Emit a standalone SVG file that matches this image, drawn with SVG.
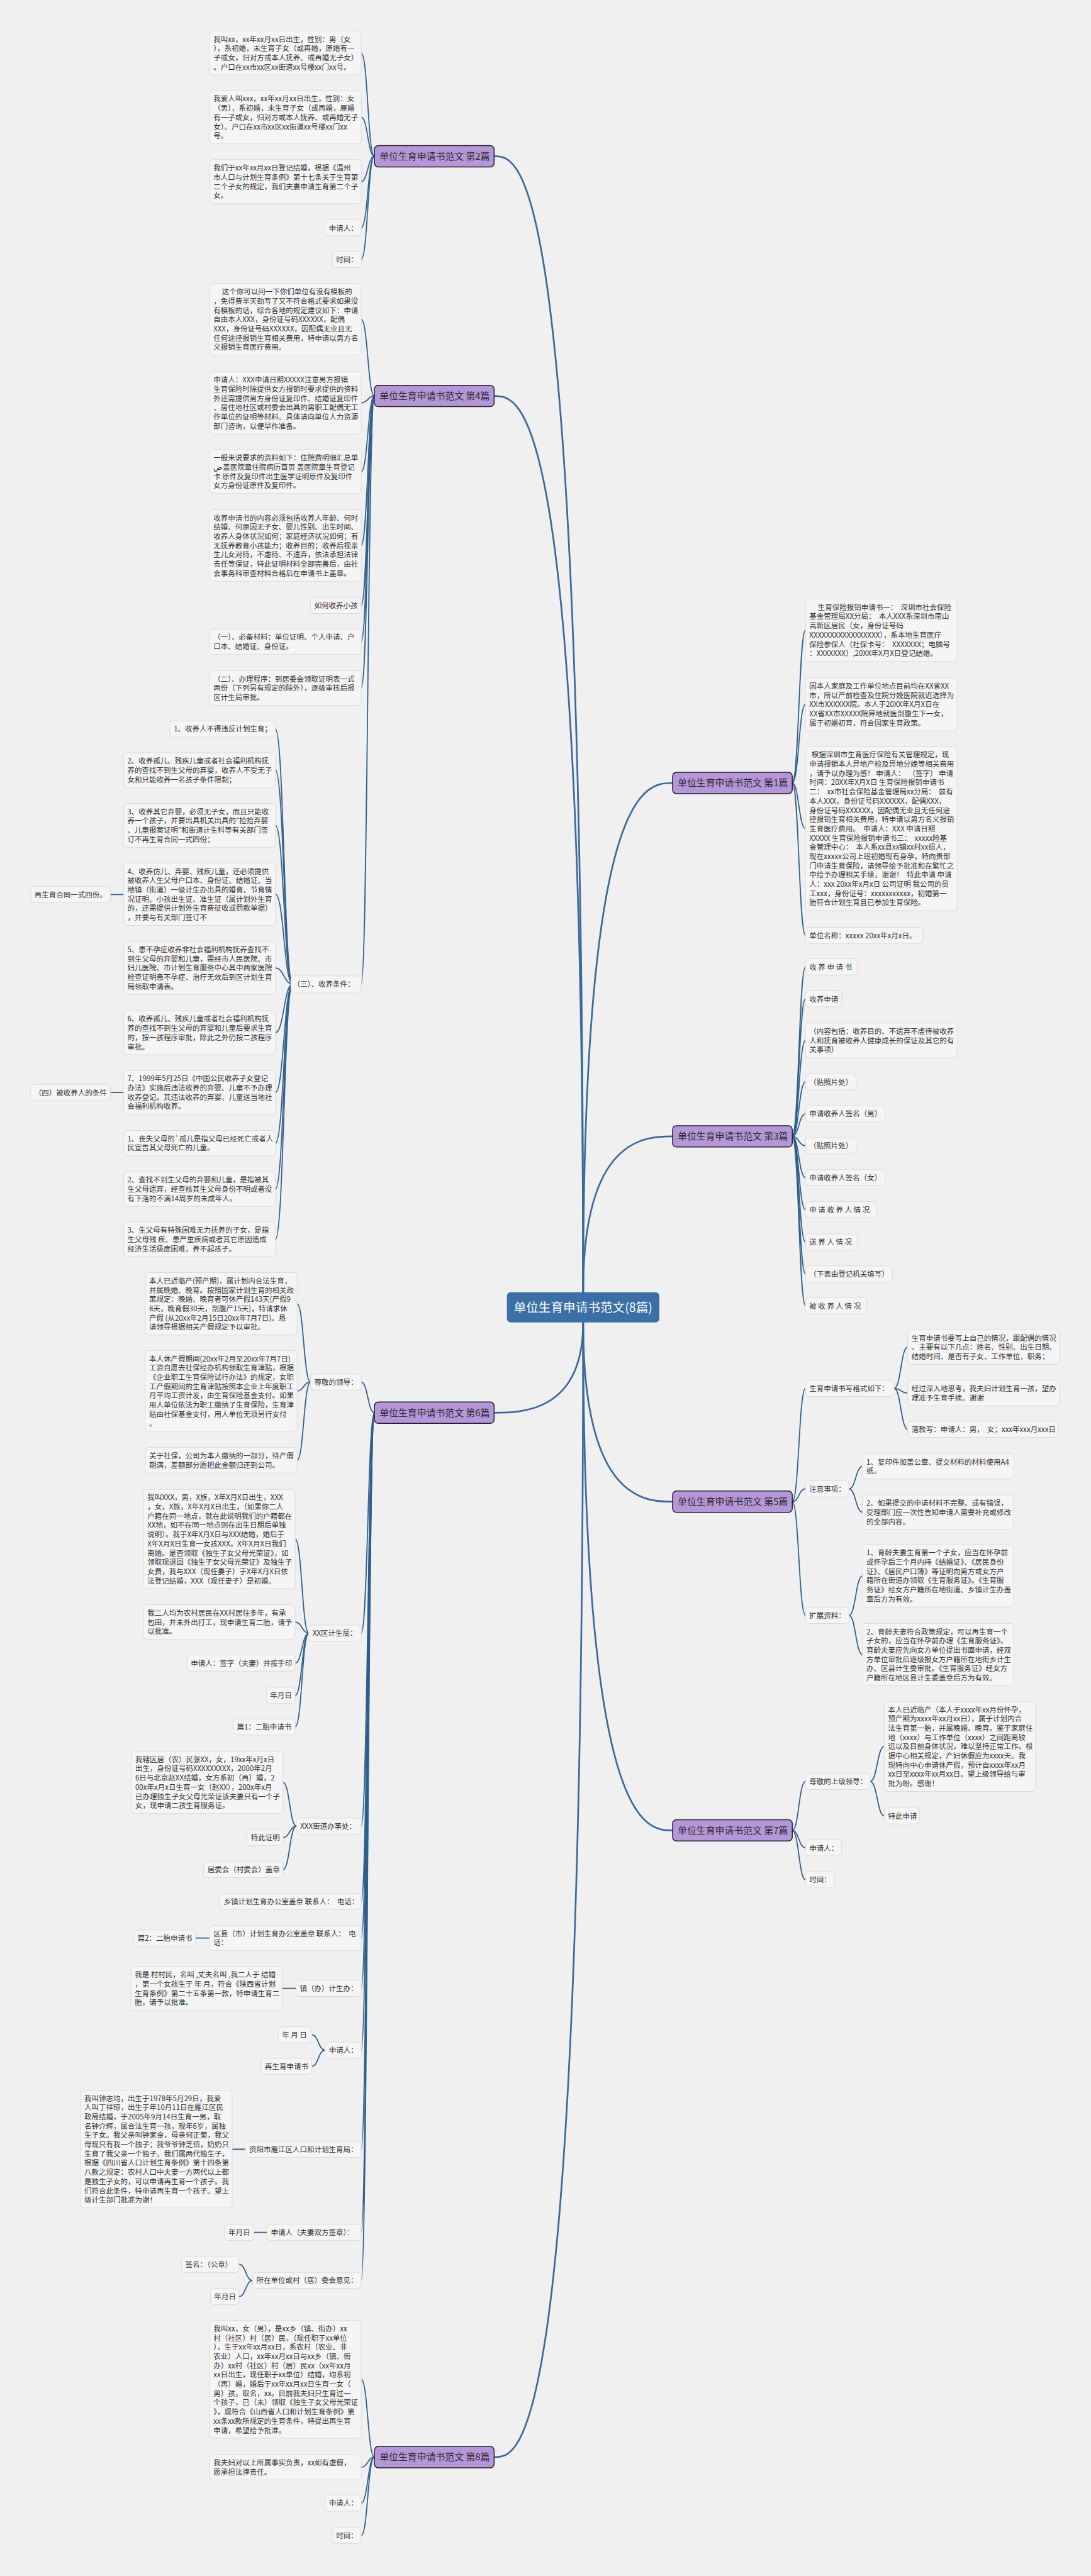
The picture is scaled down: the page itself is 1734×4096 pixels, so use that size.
<svg xmlns="http://www.w3.org/2000/svg" width="1734" height="4096" viewBox="0 0 1734 4096">
<style>
text{font-family:"Noto Sans CJK SC","Noto Sans",sans-serif;white-space:pre}
.lf rect{fill:#f5f5f5;stroke:#dcdcdc;stroke-width:1.5}
.lf text{font-size:17px;fill:#333}
.br rect{fill:#b596d9;stroke:#22202c;stroke-width:2.2}
.br text{font-size:22px;fill:#2a2a2a}
.rt rect{fill:#3b6fa6}
.rt text{font-size:29px;fill:#fff}
.cn path{fill:none;stroke:#2f5f8c;stroke-width:2.6;stroke-linecap:round}
.mn path{fill:none;stroke:#3a6a9b;stroke-width:4;stroke-linecap:round}
</style>
<rect width="1734" height="4096" fill="#f0f0f0"/>
<g transform="scale(0.677)">
<g class="mn" id="main-connectors">
<path d="M1369 3035 C1369 367 1223 367 1160 367"/>
<path d="M1369 3035 C1369 930 1223 930 1160 930"/>
<path d="M1369 3106 C1369 3318 1223 3318 1160 3318"/>
<path d="M1369 3106 C1369 5771 1223 5771 1160 5771"/>
<path d="M1369 3035 C1369 1839 1516 1839 1579 1839"/>
<path d="M1369 3035 C1369 2669 1516 2669 1579 2669"/>
<path d="M1369 3106 C1369 3527 1516 3527 1579 3527"/>
<path d="M1369 3106 C1369 4299 1516 4299 1579 4299"/>
</g>
<g class="cn" id="connectors">
<path d="M879 367 C863.5 367 863.5 124.5 848 124.5"/>
<path d="M879 367 C863.5 367 863.5 275.4 848 275.4"/>
<path d="M879 367 C863.5 367 863.5 426.5 848 426.5"/>
<path d="M879 367 C863.5 367 863.5 535 848 535"/>
<path d="M879 367 C863.5 367 863.5 609 848 609"/>
<path d="M879 930 C863.5 930 863.5 750 848 750"/>
<path d="M879 930 C863.5 930 863.5 946.3 848 946.3"/>
<path d="M879 930 C863.5 930 863.5 1107.6 848 1107.6"/>
<path d="M879 930 C863.5 930 863.5 1281 848 1281"/>
<path d="M879 930 C863.5 930 863.5 1422 848 1422"/>
<path d="M879 930 C863.5 930 863.5 1507 848 1507"/>
<path d="M879 930 C863.5 930 863.5 1615.7 848 1615.7"/>
<path d="M879 930 C863.5 930 863.5 2311 848 2311"/>
<path d="M687 2311 C666.7 2311 666.7 1712 646.5 1712"/>
<path d="M687 2311 C666.7 2311 666.7 1808.7 646.5 1808.7"/>
<path d="M687 2311 C666.7 2311 666.7 1938.6 646.5 1938.6"/>
<path d="M687 2311 C666.7 2311 666.7 2100.3 646.5 2100.3"/>
<path d="M687 2311 C666.7 2311 666.7 2273.4 646.5 2273.4"/>
<path d="M687 2311 C666.7 2311 666.7 2425.6 646.5 2425.6"/>
<path d="M687 2311 C666.7 2311 666.7 2565.6 646.5 2565.6"/>
<path d="M687 2311 C666.7 2311 666.7 2684.9 646.5 2684.9"/>
<path d="M687 2311 C666.7 2311 666.7 2792.7 646.5 2792.7"/>
<path d="M687 2311 C666.7 2311 666.7 2910.7 646.5 2910.7"/>
<path d="M290 2101 L259 2101"/>
<path d="M290 2566 L259 2566"/>
<path d="M879 3318 C863.5 3318 863.5 3246 848 3246"/>
<path d="M879 3318 C863.5 3318 863.5 3836 848 3836"/>
<path d="M879 3318 C863.5 3318 863.5 4289 848 4289"/>
<path d="M879 3318 C863.5 3318 863.5 4466 848 4466"/>
<path d="M879 3318 C863.5 3318 863.5 4552 848 4552"/>
<path d="M879 3318 C863.5 3318 863.5 4670 848 4670"/>
<path d="M879 3318 C863.5 3318 863.5 4815 848 4815"/>
<path d="M879 3318 C863.5 3318 863.5 5048 848 5048"/>
<path d="M879 3318 C863.5 3318 863.5 5243 848 5243"/>
<path d="M879 3318 C863.5 3318 863.5 5356 848 5356"/>
<path d="M729 3246 C713 3246 713 3062.3 697.5 3062.3"/>
<path d="M729 3246 C713 3246 713 3267 697.5 3267"/>
<path d="M729 3246 C713 3246 713 3430 697.5 3430"/>
<path d="M725 3836 C709 3836 709 3614.7 693 3614.7"/>
<path d="M725 3836 C709 3836 709 3809.7 693 3809.7"/>
<path d="M725 3836 C709 3836 709 3906 693 3906"/>
<path d="M725 3836 C709 3836 709 3982 693 3982"/>
<path d="M725 3836 C709 3836 709 4056 693 4056"/>
<path d="M696 4289 C680 4289 680 4186.3 664.4 4186.3"/>
<path d="M696 4289 C680 4289 680 4316 664.4 4316"/>
<path d="M696 4289 C680 4289 680 4391 664.4 4391"/>
<path d="M492 4552 L459 4552"/>
<path d="M695 4670 L663 4670"/>
<path d="M763 4815 C747.5 4815 747.5 4779 732 4779"/>
<path d="M763 4815 C747.5 4815 747.5 4853 732 4853"/>
<path d="M576 5048 L545 5048"/>
<path d="M627 5243 L596 5243"/>
<path d="M593 5356 C577 5356 577 5318 561 5318"/>
<path d="M593 5356 C577 5356 577 5394 561 5394"/>
<path d="M879 5771 C863.5 5771 863.5 5588.4 848 5588.4"/>
<path d="M879 5771 C863.5 5771 863.5 5795 848 5795"/>
<path d="M879 5771 C863.5 5771 863.5 5879 848 5879"/>
<path d="M879 5771 C863.5 5771 863.5 5955 848 5955"/>
<path d="M1860 1839 C1875.5 1839 1875.5 1480.3 1891 1480.3"/>
<path d="M1860 1839 C1875.5 1839 1875.5 1654.4 1891 1654.4"/>
<path d="M1860 1839 C1875.5 1839 1875.5 1946 1891 1946"/>
<path d="M1860 1839 C1875.5 1839 1875.5 2197 1891 2197"/>
<path d="M1860 2669 C1875.5 2669 1875.5 2271 1891 2271"/>
<path d="M1860 2669 C1875.5 2669 1875.5 2346 1891 2346"/>
<path d="M1860 2669 C1875.5 2669 1875.5 2443.7 1891 2443.7"/>
<path d="M1860 2669 C1875.5 2669 1875.5 2541 1891 2541"/>
<path d="M1860 2669 C1875.5 2669 1875.5 2616 1891 2616"/>
<path d="M1860 2669 C1875.5 2669 1875.5 2691 1891 2691"/>
<path d="M1860 2669 C1875.5 2669 1875.5 2766 1891 2766"/>
<path d="M1860 2669 C1875.5 2669 1875.5 2841 1891 2841"/>
<path d="M1860 2669 C1875.5 2669 1875.5 2917 1891 2917"/>
<path d="M1860 2669 C1875.5 2669 1875.5 2992 1891 2992"/>
<path d="M1860 2669 C1875.5 2669 1875.5 3067 1891 3067"/>
<path d="M1860 3527 C1875.5 3527 1875.5 3261 1891 3261"/>
<path d="M1860 3527 C1875.5 3527 1875.5 3497 1891 3497"/>
<path d="M1860 3527 C1875.5 3527 1875.5 3794 1891 3794"/>
<path d="M2099 3261 C2115 3261 2115 3163.7 2131 3163.7"/>
<path d="M2099 3261 C2115 3261 2115 3271.9 2131 3271.9"/>
<path d="M2099 3261 C2115 3261 2115 3357 2131 3357"/>
<path d="M1993 3497 C2009 3497 2009 3443.9 2025 3443.9"/>
<path d="M1993 3497 C2009 3497 2009 3551.7 2025 3551.7"/>
<path d="M1993 3794 C2009 3794 2009 3701.3 2025 3701.3"/>
<path d="M1993 3794 C2009 3794 2009 3886.3 2025 3886.3"/>
<path d="M1860 4299 C1875.5 4299 1875.5 4184 1891 4184"/>
<path d="M1860 4299 C1875.5 4299 1875.5 4340 1891 4340"/>
<path d="M1860 4299 C1875.5 4299 1875.5 4415 1891 4415"/>
<path d="M2043 4184 C2059.5 4184 2059.5 4101.8 2076 4101.8"/>
<path d="M2043 4184 C2059.5 4184 2059.5 4265 2076 4265"/>
</g>

<g class="rt" id="root"><rect x="1190" y="3035" width="358" height="71" rx="9"/><text x="1369" y="3081" text-anchor="middle">单位生育申请书范文(8篇)</text></g>

<g class="br" id="b2"><rect x="879" y="342" width="281" height="50" rx="9"/><text x="891" y="375">单位生育申请书范文 第2篇</text></g>
<g class="br" id="b4"><rect x="879" y="905" width="281" height="50" rx="9"/><text x="891" y="938">单位生育申请书范文 第4篇</text></g>
<g class="br" id="b6"><rect x="879" y="3293" width="281" height="50" rx="9"/><text x="891" y="3326">单位生育申请书范文 第6篇</text></g>
<g class="br" id="b8"><rect x="879" y="5746" width="281" height="50" rx="9"/><text x="891" y="5779">单位生育申请书范文 第8篇</text></g>
<g class="br" id="b1"><rect x="1579" y="1814" width="281" height="50" rx="9"/><text x="1591" y="1847">单位生育申请书范文 第1篇</text></g>
<g class="br" id="b3"><rect x="1579" y="2644" width="281" height="50" rx="9"/><text x="1591" y="2677">单位生育申请书范文 第3篇</text></g>
<g class="br" id="b5"><rect x="1579" y="3502" width="281" height="50" rx="9"/><text x="1591" y="3535">单位生育申请书范文 第5篇</text></g>
<g class="br" id="b7"><rect x="1579" y="4274" width="281" height="50" rx="9"/><text x="1591" y="4307">单位生育申请书范文 第7篇</text></g>

<g class="lf" id="a1"><rect x="492" y="73" width="356" height="103.1" rx="8"/><text><tspan x="501" y="98.5">我叫xx，xx年xx月xx日出生，性别：男（女</tspan><tspan x="501" y="120.2">），系初婚，未生育子女（或再婚，原婚有一</tspan><tspan x="501" y="141.9">子或女，归对方或本人抚养、或再婚无子女）</tspan><tspan x="501" y="163.6">。户口在xx市xx区xx街道xx号楼xx门xx号。</tspan></text></g>
<g class="lf" id="a2"><rect x="492" y="213" width="356" height="124.8" rx="8"/><text><tspan x="501" y="238.5">我爱人叫xxx，xx年xx月xx日出生，性别：女</tspan><tspan x="501" y="260.2">（男），系初婚，未生育子女（或再婚，原婚</tspan><tspan x="501" y="281.9">有一子或女，归对方或本人抚养、或再婚无子</tspan><tspan x="501" y="303.6">女）。户口在xx市xx区xx街道xx号楼xx门xx</tspan><tspan x="501" y="325.3">号。</tspan></text></g>
<g class="lf" id="a3"><rect x="492" y="375" width="356" height="103.1" rx="8"/><text><tspan x="501" y="400.5">我们于xx年xx月xx日登记结婚，根据《温州</tspan><tspan x="501" y="422.2">市人口与计划生育条例》第十七条关于生育第</tspan><tspan x="501" y="443.9">二个子女的规定，我们夫妻申请生育第二个子</tspan><tspan x="501" y="465.6">女。</tspan></text></g>
<g class="lf" id="a4"><rect x="763" y="516" width="85" height="38" rx="8"/><text x="772" y="541.5">申请人：</text></g>
<g class="lf" id="a5"><rect x="780" y="590" width="68" height="38" rx="8"/><text x="789" y="615.5">时间：</text></g>

<g class="lf" id="bb1"><rect x="492" y="666" width="356" height="168.2" rx="8"/><text><tspan x="521" y="691.5">这个你可以问一下你们单位有没有模板的</tspan><tspan x="501" y="713.2">，免得费半天劲写了又不符合格式要求如果没</tspan><tspan x="501" y="734.9">有模板的话，综合各地的规定建议如下：申请</tspan><tspan x="501" y="756.6">自由本人XXX，身份证号码XXXXXX，配偶</tspan><tspan x="501" y="778.3">XXX，身份证号码XXXXXX，因配偶无业且无</tspan><tspan x="501" y="800">任何途径报销生育相关费用，特申请以男方名</tspan><tspan x="501" y="821.7">义报销生育医疗费用。</tspan></text></g>
<g class="lf" id="bb2"><rect x="492" y="873" width="356" height="146.5" rx="8"/><text><tspan x="501" y="898.5">申请人：XXX申请日期XXXXX注意男方报销</tspan><tspan x="501" y="920.2">生育保险时除提供女方报销时要求提供的资料</tspan><tspan x="501" y="941.9">外还需提供男方身份证复印件、结婚证复印件</tspan><tspan x="501" y="963.6">、居住地社区或村委会出具的男职工配偶无工</tspan><tspan x="501" y="985.3">作单位的证明等材料。具体请向单位人力资源</tspan><tspan x="501" y="1007">部门咨询，以便早作准备。</tspan></text></g>
<g class="lf" id="bb3"><rect x="492" y="1056" width="356" height="103.1" rx="8"/><text><tspan x="501" y="1081.5">一般来说要求的资料如下：住院费明细汇总单</tspan><tspan x="501" y="1103.2">ض盖医院章住院病历首页 盖医院章生育登记</tspan><tspan x="501" y="1124.9">卡 原件及复印件出生医学证明原件及复印件</tspan><tspan x="501" y="1146.6">女方身份证原件及复印件。</tspan></text></g>
<g class="lf" id="bb4"><rect x="492" y="1197" width="356" height="168.2" rx="8"/><text><tspan x="501" y="1222.5">收养申请书的内容必须包括收养人年龄、何时</tspan><tspan x="501" y="1244.2">结婚、何原因无子女、婴儿性别、出生时间、</tspan><tspan x="501" y="1265.9">收养人身体状况如何；家庭经济状况如何；有</tspan><tspan x="501" y="1287.6">无抚养教育小孩能力；收养目的；收养后视亲</tspan><tspan x="501" y="1309.3">生儿女对待，不虐待、不遗弃，依法承担法律</tspan><tspan x="501" y="1331">责任等保证，特此证明材料全部完善后，由社</tspan><tspan x="501" y="1352.7">会事务科审查材料合格后在申请书上盖章。</tspan></text></g>
<g class="lf" id="bb5"><rect x="729" y="1403" width="119" height="38" rx="8"/><text x="738" y="1428.5">如何收养小孩</text></g>
<g class="lf" id="bb6"><rect x="492" y="1477" width="356" height="59.7" rx="8"/><text><tspan x="501" y="1502.5">（一）、必备材料：单位证明、个人申请、户</tspan><tspan x="501" y="1524.2">口本、结婚证、身份证。</tspan></text></g>
<g class="lf" id="bb7"><rect x="492" y="1575" width="356" height="81.4" rx="8"/><text><tspan x="501" y="1600.5">（二）、办理程序：到居委会领取证明表一式</tspan><tspan x="501" y="1622.2">两份（下列另有规定的除外），逐级审核后报</tspan><tspan x="501" y="1643.9">区计生局审批。</tspan></text></g>
<g class="lf" id="bb8"><rect x="683" y="2292" width="165" height="38" rx="8"/><text x="688" y="2317.5">（三）、收养条件：</text></g>

<g class="lf" id="c1"><rect x="399" y="1693" width="247.5" height="38" rx="8"/><text x="408" y="1718.5">1、收养人不得违反计划生育；</text></g>
<g class="lf" id="c2"><rect x="290" y="1768" width="356.5" height="81.4" rx="8"/><text><tspan x="299" y="1793.5">2、收养孤儿、残疾儿童或者社会福利机构抚</tspan><tspan x="299" y="1815.2">养的查找不到生父母的弃婴，收养人不受无子</tspan><tspan x="299" y="1836.9">女和只能收养一名孩子条件限制；</tspan></text></g>
<g class="lf" id="c3"><rect x="290" y="1887" width="356.5" height="103.1" rx="8"/><text><tspan x="299" y="1912.5">3、收养其它弃婴，必须无子女，而且只能收</tspan><tspan x="299" y="1934.2">养一个孩子，并要出具机关出具的"捡拾弃婴</tspan><tspan x="299" y="1955.9">、儿童报案证明"和街道计生科等有关部门签</tspan><tspan x="299" y="1977.6">订不再生育合同一式四份；</tspan></text></g>
<g class="lf" id="c4"><rect x="290" y="2027" width="356.5" height="146.5" rx="8"/><text><tspan x="299" y="2052.5">4、收养仿儿、弃婴、残疾儿童，还必须提供</tspan><tspan x="299" y="2074.2">被收养人生父母户口本、身份证、结婚证、当</tspan><tspan x="299" y="2095.9">地镇（街道）一级计生办出具的婚育、节育情</tspan><tspan x="299" y="2117.6">况证明、小孩出生证、准生证（属计划外生育</tspan><tspan x="299" y="2139.3">的，还需提供计划外生育费征收或罚款单据）</tspan><tspan x="299" y="2161">，并要与有关部门签订不</tspan></text></g>
<g class="lf" id="c4c"><rect x="72" y="2082" width="187" height="38" rx="8"/><text x="81" y="2107.5">再生育合同一式四份。</text></g>
<g class="lf" id="c5"><rect x="290" y="2211" width="356.5" height="124.8" rx="8"/><text><tspan x="299" y="2236.5">5、患不孕症收养非社会福利机构抚养查找不</tspan><tspan x="299" y="2258.2">到生父母的弃婴和儿童，需经市人民医院、市</tspan><tspan x="299" y="2279.9">妇儿医院、市计划生育服务中心其中两家医院</tspan><tspan x="299" y="2301.6">检查证明患不孕症、治疗无效后到区计划生育</tspan><tspan x="299" y="2323.3">局领取申请表。</tspan></text></g>
<g class="lf" id="c6"><rect x="290" y="2374" width="356.5" height="103.1" rx="8"/><text><tspan x="299" y="2399.5">6、收养孤儿、残疾儿童或者社会福利机构抚</tspan><tspan x="299" y="2421.2">养的查找不到生父母的弃婴和儿童后要求生育</tspan><tspan x="299" y="2442.9">的，按一孩程序审批，除此之外仍按二孩程序</tspan><tspan x="299" y="2464.6">审批。</tspan></text></g>
<g class="lf" id="c7"><rect x="290" y="2514" width="356.5" height="103.1" rx="8"/><text><tspan x="299" y="2539.5">7、1999年5月25日《中国公民收养子女登记</tspan><tspan x="299" y="2561.2">办法》实施后违法收养的弃婴、儿童不予办理</tspan><tspan x="299" y="2582.9">收养登记。其违法收养的弃婴、儿童送当地社</tspan><tspan x="299" y="2604.6">会福利机构收养。</tspan></text></g>
<g class="lf" id="c7c"><rect x="72" y="2547" width="187" height="38" rx="8"/><text x="81" y="2572.5">（四）被收养人的条件</text></g>
<g class="lf" id="c8"><rect x="290" y="2655" width="356.5" height="59.7" rx="8"/><text><tspan x="299" y="2680.5">1、丧失父母的`孤儿是指父母已经死亡或者人</tspan><tspan x="299" y="2702.2">民宣告其父母死亡的儿童。</tspan></text></g>
<g class="lf" id="c9"><rect x="290" y="2752" width="356.5" height="81.4" rx="8"/><text><tspan x="299" y="2777.5">2、查找不到生父母的弃婴和儿童，是指被其</tspan><tspan x="299" y="2799.2">生父母遗弃，经查核其生父母身份不明或者没</tspan><tspan x="299" y="2820.9">有下落的不满14周岁的未成年人。</tspan></text></g>
<g class="lf" id="c10"><rect x="290" y="2870" width="356.5" height="81.4" rx="8"/><text><tspan x="299" y="2895.5">3、生父母有特殊困难无力抚养的子女，是指</tspan><tspan x="299" y="2917.2">生父母残 疾、患严重疾病或者其它原因造成</tspan><tspan x="299" y="2938.9">经济生活极度困难，养不起孩子。</tspan></text></g>

<g class="lf" id="d1"><rect x="729" y="3227" width="119" height="38" rx="8"/><text x="738" y="3252.5">尊敬的领导：</text></g>
<g class="lf" id="d1a"><rect x="341" y="2989" width="356.5" height="146.5" rx="8"/><text><tspan x="350" y="3014.5">本人已近临产(预产期)，属计划内合法生育，</tspan><tspan x="350" y="3036.2">并属晚婚、晚育。按照国家计划生育的相关政</tspan><tspan x="350" y="3057.9">策规定：晚婚、晚育者可休产假143天(产假9</tspan><tspan x="350" y="3079.6">8天，晚育假30天，剖腹产15天)，特请求休</tspan><tspan x="350" y="3101.3">产假 (从20xx年2月15日20xx年7月7日)。恳</tspan><tspan x="350" y="3123">请领导根据相关产假规定予以审批。</tspan></text></g>
<g class="lf" id="d1b"><rect x="341" y="3172" width="356.5" height="189.9" rx="8"/><text><tspan x="350" y="3197.5">本人休产假期间(20xx年2月至20xx年7月7日)</tspan><tspan x="350" y="3219.2">工资自愿去社保经办机构领取生育津贴，根据</tspan><tspan x="350" y="3240.9">《企业职工生育保险试行办法》的规定，女职</tspan><tspan x="350" y="3262.6">工产假期间的生育津贴按照本企业上年度职工</tspan><tspan x="350" y="3284.3">月平均工资计发，由生育保险基金支付。如果</tspan><tspan x="350" y="3306">用人单位依法为职工缴纳了生育保险，生育津</tspan><tspan x="350" y="3327.7">贴由社保基金支付，用人单位无须另行支付</tspan><tspan x="350" y="3349.4">。</tspan></text></g>
<g class="lf" id="d1c"><rect x="341" y="3400" width="356.5" height="59.7" rx="8"/><text><tspan x="350" y="3425.5">关于社保，公司为本人缴纳的一部分，待产假</tspan><tspan x="350" y="3447.2">期满，差额部分愿把此金额归还到公司。</tspan></text></g>

<g class="lf" id="d2"><rect x="725" y="3817" width="123" height="38" rx="8"/><text x="734" y="3842.5">XX区计生局：</text></g>
<g class="lf" id="d2a"><rect x="337" y="3498" width="356" height="233.3" rx="8"/><text><tspan x="346" y="3523.5">我叫XXX，男，X族，X年X月X日出生，XXX</tspan><tspan x="346" y="3545.2">，女，X族，X年X月X日出生，（如果你二人</tspan><tspan x="346" y="3566.9">户籍在同一地点，就在此说明我们的户籍都在</tspan><tspan x="346" y="3588.6">XX地，如不在同一地点则在出生日期后单独</tspan><tspan x="346" y="3610.3">说明）。我于X年X月X日与XXX结婚，婚后于</tspan><tspan x="346" y="3632">X年X月X日生育一女孩XXX，X年X月X日我们</tspan><tspan x="346" y="3653.7">离婚。是否领取《独生子女父母光荣证》，如</tspan><tspan x="346" y="3675.4">领取现退回《独生子女父母光荣证》及独生子</tspan><tspan x="346" y="3697.1">女费，我与XXX（现任妻子）于X年X月X日依</tspan><tspan x="346" y="3718.8">法登记结婚，XXX（现任妻子）是初婚。</tspan></text></g>
<g class="lf" id="d2b"><rect x="337" y="3769" width="356" height="81.4" rx="8"/><text><tspan x="346" y="3794.5">我二人均为农村居民在XX村居住多年，有承</tspan><tspan x="346" y="3816.2">包田，并未外出打工，现申请生育二胎，请予</tspan><tspan x="346" y="3837.9">以批准。</tspan></text></g>
<g class="lf" id="d2c"><rect x="439" y="3887" width="254" height="38" rx="8"/><text x="448" y="3912.5">申请人：签字（夫妻）并按手印</text></g>
<g class="lf" id="d2d"><rect x="625" y="3963" width="68" height="38" rx="8"/><text x="634" y="3988.5">年月日</text></g>
<g class="lf" id="d2e"><rect x="547" y="4037" width="146" height="38" rx="8"/><text x="556" y="4062.5">篇1：二胎申请书</text></g>

<g class="lf" id="d3"><rect x="696" y="4270" width="152" height="38" rx="8"/><text x="705" y="4295.5">XXX街道办事处：</text></g>
<g class="lf" id="d3a"><rect x="308.5" y="4113" width="356" height="146.5" rx="8"/><text><tspan x="317.5" y="4138.5">我辖区居（农）民张XX，女，19xx年x月x日</tspan><tspan x="317.5" y="4160.2">出生，身份证号码XXXXXXXXX，2000年2月</tspan><tspan x="317.5" y="4181.9">6日与北京赵XX结婚，女方系初（再）婚，2</tspan><tspan x="317.5" y="4203.6">00x年x月x日生育一女（赵XX），200x年x月</tspan><tspan x="317.5" y="4225.3">已办理独生子女父母光荣证该夫妻只有一个子</tspan><tspan x="317.5" y="4247">女，现申请二孩生育服务证。</tspan></text></g>
<g class="lf" id="d3b"><rect x="580" y="4297" width="84.4" height="38" rx="8"/><text x="589" y="4322.5">特此证明</text></g>
<g class="lf" id="d3c"><rect x="478" y="4372" width="186.4" height="38" rx="8"/><text x="487" y="4397.5">居委会（村委会）盖章</text></g>
<g class="lf" id="d4"><rect x="516" y="4447" width="332" height="38" rx="8"/><text x="525" y="4472.5">乡镇计划生育办公室盖章 联系人：  电话：</text></g>
<g class="lf" id="d5"><rect x="492" y="4522" width="356" height="59.7" rx="8"/><text><tspan x="501" y="4547.5">区县（市）计划生育办公室盖章 联系人：  电</tspan><tspan x="501" y="4569.2">话：</tspan></text></g>
<g class="lf" id="d5c"><rect x="314" y="4533" width="145" height="38" rx="8"/><text x="323" y="4558.5">篇2：二胎申请书</text></g>
<g class="lf" id="d6"><rect x="695" y="4651" width="153" height="38" rx="8"/><text x="704" y="4676.5">镇（办）计生办：</text></g>
<g class="lf" id="d6c"><rect x="307.5" y="4619" width="355.5" height="103.1" rx="8"/><text><tspan x="316.5" y="4644.5">我是 村村民，名叫 ,丈夫名叫 ,我二人于 结婚</tspan><tspan x="316.5" y="4666.2">，第一个女孩生于 年 月，符合《陕西省计划</tspan><tspan x="316.5" y="4687.9">生育条例》第二十五条第一款，特申请生育二</tspan><tspan x="316.5" y="4709.6">胎，请予以批准。</tspan></text></g>
<g class="lf" id="d7"><rect x="763" y="4796" width="85" height="38" rx="8"/><text x="772" y="4821.5">申请人：</text></g>
<g class="lf" id="d7a"><rect x="653" y="4760" width="79" height="38" rx="8"/><text x="662" y="4785.5">年 月 日</text></g>
<g class="lf" id="d7b"><rect x="613" y="4834" width="119" height="38" rx="8"/><text x="622" y="4859.5">再生育申请书</text></g>
<g class="lf" id="d8"><rect x="576" y="5029" width="272" height="38" rx="8"/><text x="585" y="5054.5">资阳市雁江区人口和计划生育局：</text></g>
<g class="lf" id="d8c"><rect x="189" y="4909" width="356" height="276.7" rx="8"/><text><tspan x="198" y="4934.5">我叫钟志均，出生于1978年5月29日，我爱</tspan><tspan x="198" y="4956.2">人叫丁祥琼，出生于年10月11日在雁江区民</tspan><tspan x="198" y="4977.9">政局结婚，于2005年9月14日生育一男，取</tspan><tspan x="198" y="4999.6">名钟介辉，属合法生育一孩，现年6岁，属独</tspan><tspan x="198" y="5021.3">生子女。我父亲叫钟家金，母亲何正菊，我父</tspan><tspan x="198" y="5043">母现只有我一个独子；我爷爷钟芝佰，奶奶只</tspan><tspan x="198" y="5064.7">生育了我父亲一个独子。我们属两代独生子，</tspan><tspan x="198" y="5086.4">根据《四川省人口计划生育条例》第十四条第</tspan><tspan x="198" y="5108.1">八款之规定：农村人口中夫妻一方两代以上都</tspan><tspan x="198" y="5129.8">是独生子女的，可以申请再生育一个孩子。我</tspan><tspan x="198" y="5151.5">们符合此条件，特申请再生育一个孩子。望上</tspan><tspan x="198" y="5173.2">级计生部门批准为谢！</tspan></text></g>
<g class="lf" id="d9"><rect x="627" y="5224" width="221" height="38" rx="8"/><text x="636" y="5249.5">申请人（夫妻双方签章）：</text></g>
<g class="lf" id="d9c"><rect x="527.5" y="5224" width="68.5" height="38" rx="8"/><text x="536.5" y="5249.5">年月日</text></g>
<g class="lf" id="d10"><rect x="593" y="5337" width="255" height="38" rx="8"/><text x="602" y="5362.5">所在单位或村（居）委会意见：</text></g>
<g class="lf" id="d10a"><rect x="426" y="5299" width="135" height="38" rx="8"/><text x="435" y="5324.5">签名：（公章）</text></g>
<g class="lf" id="d10b"><rect x="494" y="5375" width="67" height="38" rx="8"/><text x="503" y="5400.5">年月日</text></g>

<g class="lf" id="e1"><rect x="492" y="5450" width="356" height="276.7" rx="8"/><text><tspan x="501" y="5475.5">我叫xx，女（男），是xx乡（镇、街办）xx</tspan><tspan x="501" y="5497.2">村（社区）村（居）民，（现任职于xx单位</tspan><tspan x="501" y="5518.9">），生于xx年xx月xx日，系农村（农业、非</tspan><tspan x="501" y="5540.6">农业）人口，xx年xx月xx日与xx乡（镇、街</tspan><tspan x="501" y="5562.3">办）xx村（社区）村（居）民xx（xx年xx月</tspan><tspan x="501" y="5584">xx日出生，现任职于xx单位）结婚，均系初</tspan><tspan x="501" y="5605.7">（再）婚，婚后于xx年xx月xx日生育一女（</tspan><tspan x="501" y="5627.4">男）孩，取名，xx。目前我夫妇只生育过一</tspan><tspan x="501" y="5649.1">个孩子，已（未）领取《独生子女父母光荣证</tspan><tspan x="501" y="5670.8">》，现符合《山西省人口和计划生育条例》第</tspan><tspan x="501" y="5692.5">xx条xx款所规定的生育条件，特提出再生育</tspan><tspan x="501" y="5714.2">申请，希望给予批准。</tspan></text></g>
<g class="lf" id="e2"><rect x="492" y="5765" width="356" height="59.7" rx="8"/><text><tspan x="501" y="5790.5">我夫妇对以上所属事实负责，xx如有虚假，</tspan><tspan x="501" y="5812.2">愿承担法律责任。</tspan></text></g>
<g class="lf" id="e3"><rect x="763" y="5860" width="85" height="38" rx="8"/><text x="772" y="5885.5">申请人：</text></g>
<g class="lf" id="e4"><rect x="780" y="5936" width="68" height="38" rx="8"/><text x="789" y="5961.5">时间：</text></g>

<g class="lf" id="f1"><rect x="1891" y="1407" width="356" height="146.5" rx="8"/><text><tspan x="1920" y="1432.5">生育保险报销申请书一：  深圳市社会保险</tspan><tspan x="1900" y="1454.2">基金管理局XX分局：  本人XXX系深圳市南山</tspan><tspan x="1900" y="1475.9">高新区居民（女，身份证号码</tspan><tspan x="1900" y="1497.6">XXXXXXXXXXXXXXXXX），系本地生育医疗</tspan><tspan x="1900" y="1519.3">保险参保人（社保卡号：  XXXXXXX；电脑号</tspan><tspan x="1900" y="1541">：XXXXXXX）,20XX年X月X日登记结婚。</tspan></text></g>
<g class="lf" id="f2"><rect x="1891" y="1592" width="356" height="124.8" rx="8"/><text><tspan x="1900" y="1617.5">因本人家庭及工作单位地点目前均在XX省XX</tspan><tspan x="1900" y="1639.2">市，所以产前检查及住院分娩医院就近选择为</tspan><tspan x="1900" y="1660.9">XX市XXXXXX院。本人于20XX年X月X日在</tspan><tspan x="1900" y="1682.6">XX省XX市XXXXX院异地就医剖腹生下一女，</tspan><tspan x="1900" y="1704.3">属于初婚初育，符合国家生育政策。</tspan></text></g>
<g class="lf" id="f3"><rect x="1891" y="1753.5" width="356" height="385.2" rx="8"/><text><tspan x="1905" y="1779">根据深圳市生育医疗保险有关管理规定，现</tspan><tspan x="1900" y="1800.7">申请报销本人异地产检及异地分娩等相关费用</tspan><tspan x="1900" y="1822.4">，请予以办理为感！ 申请人：  （签字） 申请</tspan><tspan x="1900" y="1844.1">时间：20XX年X月X日 生育保险报销申请书</tspan><tspan x="1900" y="1865.8">二：  xx市社会保险基金管理局xx分局：  兹有</tspan><tspan x="1900" y="1887.5">本人XXX，身份证号码XXXXXX，配偶XXX，</tspan><tspan x="1900" y="1909.2">身份证号码XXXXXX，因配偶无业且无任何途</tspan><tspan x="1900" y="1930.9">径报销生育相关费用，特申请以男方名义报销</tspan><tspan x="1900" y="1952.6">生育医疗费用。  申请人：XXX 申请日期</tspan><tspan x="1900" y="1974.3">XXXXX 生育保险报销申请书三：  xxxxx险基</tspan><tspan x="1900" y="1996">金管理中心：  本人系xx县xx镇xx村xx组人，</tspan><tspan x="1900" y="2017.7">现在xxxxx公司上班初婚现有身孕，特向贵部</tspan><tspan x="1900" y="2039.4">门申请生育保险，请领导给予批准和在繁忙之</tspan><tspan x="1900" y="2061.1">中给予办理相关手续，谢谢！  特此申请 申请</tspan><tspan x="1900" y="2082.8">人：xxx 20xx年x月x日 公司证明 我公司的员</tspan><tspan x="1900" y="2104.5">工xxx，身份证号：xxxxxxxxxxx，初婚第一</tspan><tspan x="1900" y="2126.2">胎符合计划生育且已参加生育保险。</tspan></text></g>
<g class="lf" id="f4"><rect x="1891" y="2178" width="276" height="38" rx="8"/><text x="1900" y="2203.5">单位名称：xxxxx 20xx年x月x日。</text></g>

<g class="lf" id="g1"><rect x="1891" y="2252" width="121.5" height="38" rx="8"/><text x="1900" y="2277.5">收 养 申 请 书</text></g>
<g class="lf" id="g2"><rect x="1891" y="2327" width="85" height="38" rx="8"/><text x="1900" y="2352.5">收养申请</text></g>
<g class="lf" id="g3"><rect x="1891" y="2403" width="356" height="81.4" rx="8"/><text><tspan x="1900" y="2428.5">（内容包括：收养目的、不遗弃不虐待被收养</tspan><tspan x="1900" y="2450.2">人和抚育被收养人健康成长的保证及其它的有</tspan><tspan x="1900" y="2471.9">关事项）</tspan></text></g>
<g class="lf" id="g4"><rect x="1891" y="2522" width="119" height="38" rx="8"/><text x="1900" y="2547.5">（贴照片处）</text></g>
<g class="lf" id="g5"><rect x="1891" y="2597" width="186.5" height="38" rx="8"/><text x="1900" y="2622.5">申请收养人签名（男）</text></g>
<g class="lf" id="g6"><rect x="1891" y="2672" width="119" height="38" rx="8"/><text x="1900" y="2697.5">（贴照片处）</text></g>
<g class="lf" id="g7"><rect x="1891" y="2747" width="186.5" height="38" rx="8"/><text x="1900" y="2772.5">申请收养人签名（女）</text></g>
<g class="lf" id="g8"><rect x="1891" y="2822" width="166" height="38" rx="8"/><text x="1900" y="2847.5">申 请 收 养 人 情 况</text></g>
<g class="lf" id="g9"><rect x="1891" y="2898" width="121.5" height="38" rx="8"/><text x="1900" y="2923.5">送 养 人 情 况</text></g>
<g class="lf" id="g10"><rect x="1891" y="2973" width="204" height="38" rx="8"/><text x="1900" y="2998.5">（下表由登记机关填写）</text></g>
<g class="lf" id="g11"><rect x="1891" y="3048" width="144" height="38" rx="8"/><text x="1900" y="3073.5">被 收 养 人 情 况</text></g>

<g class="lf" id="h1"><rect x="1891" y="3242" width="208" height="38" rx="8"/><text x="1900" y="3267.5">生育申请书写格式如下：</text></g>
<g class="lf" id="h1a"><rect x="2131" y="3123" width="356" height="81.4" rx="8"/><text><tspan x="2140" y="3148.5">生育申请书要写上自己的情况，跟配偶的情况</tspan><tspan x="2140" y="3170.2">。主要有以下几点：姓名、性别、出生日期、</tspan><tspan x="2140" y="3191.9">结婚时间、是否有子女、工作单位、职务；</tspan></text></g>
<g class="lf" id="h1b"><rect x="2131" y="3242" width="356" height="59.7" rx="8"/><text><tspan x="2140" y="3267.5">经过深入地思考，我夫妇计划生育一孩，望办</tspan><tspan x="2140" y="3289.2">理准予生育手续。谢谢</tspan></text></g>
<g class="lf" id="h1c"><rect x="2131" y="3338" width="354" height="38" rx="8"/><text x="2140" y="3363.5">落款写：申请人：男，  女；xxx年xxx月xxx日</text></g>
<g class="lf" id="h2"><rect x="1891" y="3478" width="102" height="38" rx="8"/><text x="1900" y="3503.5">注意事项：</text></g>
<g class="lf" id="h2a"><rect x="2025" y="3414" width="355" height="59.7" rx="8"/><text><tspan x="2034" y="3439.5">1、复印件加盖公章、提交材料的材料使用A4</tspan><tspan x="2034" y="3461.2">纸。</tspan></text></g>
<g class="lf" id="h2b"><rect x="2025" y="3511" width="355" height="81.4" rx="8"/><text><tspan x="2034" y="3536.5">2、如果提交的申请材料不完整、或有错误，</tspan><tspan x="2034" y="3558.2">受理部门应一次性告知申请人需要补充或修改</tspan><tspan x="2034" y="3579.9">的全部内容。</tspan></text></g>
<g class="lf" id="h3"><rect x="1891" y="3775" width="102" height="38" rx="8"/><text x="1900" y="3800.5">扩展资料：</text></g>
<g class="lf" id="h3a"><rect x="2025" y="3628" width="355" height="146.5" rx="8"/><text><tspan x="2034" y="3653.5">1、育龄夫妻生育第一个子女，应当在怀孕前</tspan><tspan x="2034" y="3675.2">或怀孕后三个月内持《结婚证》、《居民身份</tspan><tspan x="2034" y="3696.9">证》、《居民户口簿》等证明向男方或女方户</tspan><tspan x="2034" y="3718.6">籍所在街道办领取《生育服务证》。《生育服</tspan><tspan x="2034" y="3740.3">务证》经女方户籍所在地街道、乡镇计生办盖</tspan><tspan x="2034" y="3762">章后方为有效。</tspan></text></g>
<g class="lf" id="h3b"><rect x="2025" y="3813" width="355" height="146.5" rx="8"/><text><tspan x="2034" y="3838.5">2、育龄夫妻符合政策规定，可以再生育一个</tspan><tspan x="2034" y="3860.2">子女的，应当在怀孕前办理《生育服务证》。</tspan><tspan x="2034" y="3881.9">育龄夫妻应先向女方单位提出书面申请，经双</tspan><tspan x="2034" y="3903.6">方单位审批后逐级报女方户籍所在地街乡计生</tspan><tspan x="2034" y="3925.3">办、区县计生委审批。《生育服务证》经女方</tspan><tspan x="2034" y="3947">户籍所在地区县计生委盖章后方为有效。</tspan></text></g>

<g class="lf" id="i1"><rect x="1891" y="4165" width="152" height="38" rx="8"/><text x="1900" y="4190.5">尊敬的上级领导：</text></g>
<g class="lf" id="i1a"><rect x="2076" y="3996" width="355" height="211.6" rx="8"/><text><tspan x="2085" y="4021.5">本人已近临产（本人于xxxx年xx月份怀孕，</tspan><tspan x="2085" y="4043.2">预产期为xxxx年xx月xx日），属于计划内合</tspan><tspan x="2085" y="4064.9">法生育第一胎，并属晚婚、晚育。鉴于家庭住</tspan><tspan x="2085" y="4086.6">地（xxxx）与工作单位（xxxx）之间距离较</tspan><tspan x="2085" y="4108.3">远以及目前身体状况，难以坚持正常工作。根</tspan><tspan x="2085" y="4130">据中心相关规定，产妇休假应为xxxx天。我</tspan><tspan x="2085" y="4151.7">现特向中心申请休产假，预计自xxxx年xx月</tspan><tspan x="2085" y="4173.4">xx日至xxxx年xx月xx日。望上级领导给与审</tspan><tspan x="2085" y="4195.1">批为盼。感谢！</tspan></text></g>
<g class="lf" id="i1b"><rect x="2076" y="4246" width="83" height="38" rx="8"/><text x="2085" y="4271.5">特此申请</text></g>
<g class="lf" id="i2"><rect x="1891" y="4321" width="85" height="38" rx="8"/><text x="1900" y="4346.5">申请人：</text></g>
<g class="lf" id="i3"><rect x="1891" y="4396" width="68" height="38" rx="8"/><text x="1900" y="4421.5">时间：</text></g>
</g>
</svg>
